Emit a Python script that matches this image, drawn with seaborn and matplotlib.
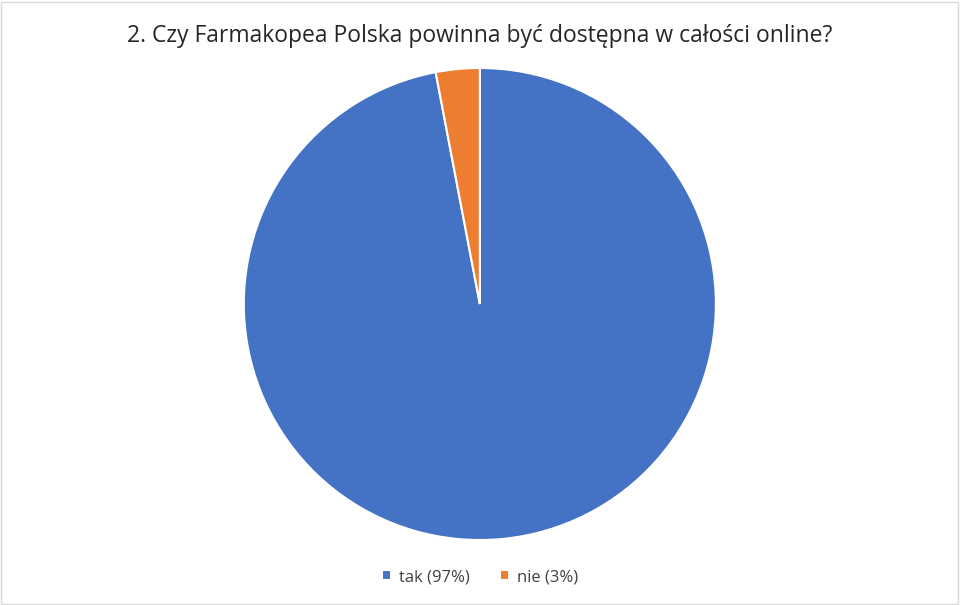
import matplotlib
matplotlib.use('Agg')
import matplotlib.pyplot as plt
import seaborn as sns
from matplotlib.patches import Rectangle

# Survey answers
labels = ['tak (97%)', 'nie (3%)']
values = [97, 3]
colors = ['#4472C4', '#ED7D31']

sns.set_theme(style='white')
plt.rcParams['font.family'] = ['Open Sans', 'DejaVu Sans']

fig = plt.figure(figsize=(9.6, 6.05), dpi=100)
ax = fig.add_axes([0.254, 0.1074, 0.4917, 0.7802])

wedges, _ = ax.pie(values, colors=colors, startangle=90, counterclock=False,
                   wedgeprops=dict(edgecolor='white', linewidth=1.5))
ax.set_xlim(-1.0, 1.0)
ax.set_ylim(-1.0, 1.0)
ax.set_aspect('equal')

fig.text(0.5, 0.94, '2. Czy Farmakopea Polska powinna być dostępna w całości online?',
         ha='center', va='center', fontsize=16.5, color='#262626')

fig.legend(wedges, labels, loc='center', bbox_to_anchor=(0.5, 0.046), ncol=2,
           frameon=False, fontsize=12, handlelength=0.55, handleheight=0.55,
           handletextpad=0.5, columnspacing=1.8, labelcolor='#404040')

# thin grey border round the chart area
fig.patches.append(Rectangle((0.001, 0.002), 0.997, 0.995, transform=fig.transFigure,
                             fill=False, edgecolor='#d9d9d9', linewidth=1))

fig.savefig('out.png', dpi=100, facecolor='white')
